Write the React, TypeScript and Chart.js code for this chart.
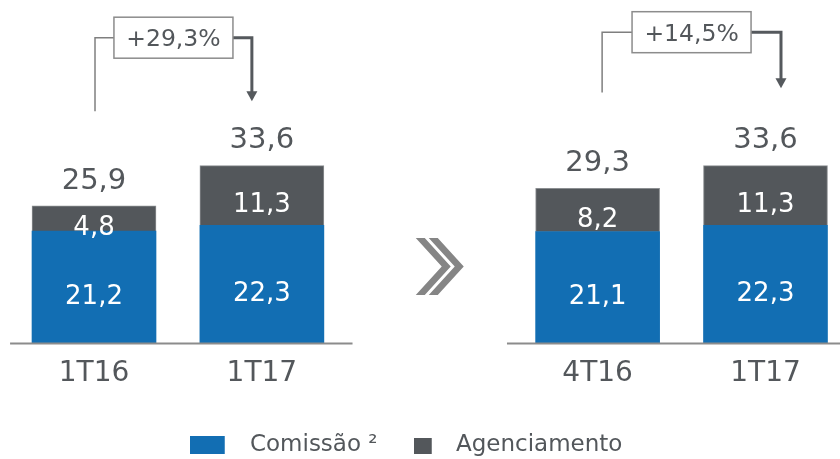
import React, { useEffect, useRef } from 'react';
import { Chart, registerables } from 'chart.js';

Chart.register(...registerables);

// ---- data ----
const categories = ['1T16', '1T17', '', '4T16', '1T17'];
const comissao: (number | null)[] = [21.2, 22.3, null, 21.1, 22.3];
const agenciamento: (number | null)[] = [4.8, 11.3, null, 8.2, 11.3];
const totals: (number | null)[] = [25.9, 33.6, null, 29.3, 33.6];
const seriesNames = ['Comissão ²', 'Agenciamento'];
const growthLabels = ['+29,3%', '+14,5%'];
const growthFrom = [0, 3];
const growthTo = [1, 4];

// ---- styles ----
const FONT = '"DejaVu Sans", sans-serif';
const BLUE = '#126EB3';
const GRAY = '#53575B';
const TEXT = '#53575B';
const AXIS = '#8C8C8C';
const growthStyle = [
  { dxFrom: 1, dxTo: -10, boxDy: -128, tipDy: -64.5, baseDy: -95 },
  { dxFrom: 4.5, dxTo: 15.5, boxDy: -133.5, tipDy: -77.5, baseDy: -96 },
];

const fmt = (v: number) => v.toFixed(1).replace('.', ',');

function makeLegendImg(color: string, w: number, h: number, rx: number, ry: number, rw: number, rh: number) {
  const c = document.createElement('canvas');
  c.width = w;
  c.height = h;
  const g = c.getContext('2d')!;
  g.fillStyle = color;
  g.fillRect(rx, ry, rw, rh);
  return c;
}

const overlayPlugin = {
  id: 'overlay',
  afterDatasetsDraw(chart: any) {
    const { ctx, chartArea, scales } = chart;
    const x = scales.x;
    const y = scales.y;
    ctx.save();
    // broken baseline
    ctx.strokeStyle = AXIS;
    ctx.lineWidth = 2;
    const by = chartArea.bottom + 0.5;
    [[-0.5, 1.54], [2.46, 4.5]].forEach(([a, b]) => {
      ctx.beginPath();
      ctx.moveTo(x.getPixelForValue(a), by);
      ctx.lineTo(x.getPixelForValue(b), by);
      ctx.stroke();
    });

    // segment labels
    ctx.textAlign = 'center';
    ctx.textBaseline = 'alphabetic';
    ctx.fillStyle = '#FFFFFF';
    ctx.font = `26px ${FONT}`;
    chart.data.datasets.forEach((ds: any, di: number) => {
      const meta = chart.getDatasetMeta(di);
      meta.data.forEach((el: any, j: number) => {
        const v = ds.data[j].y;
        const cy = (el.y + el.base) / 2 + 7;
        ctx.fillText(fmt(v), el.x, cy + 9.5);
      });
    });

    // totals
    ctx.fillStyle = TEXT;
    ctx.font = `29px ${FONT}`;
    totals.forEach((t, i) => {
      if (t == null) return;
      ctx.fillText(fmt(t), x.getPixelForValue(i), y.getPixelForValue(t) - 17.5);
    });

    // growth brackets
    growthLabels.forEach((lab, k) => {
      const st = growthStyle[k];
      const f = growthFrom[k];
      const t = growthTo[k];
      const topTo = y.getPixelForValue(totals[t] as number);
      const topFrom = y.getPixelForValue(totals[f] as number);
      const lx = x.getPixelForValue(f) + st.dxFrom;
      const ax = x.getPixelForValue(t) + st.dxTo;
      const boxY = topTo + st.boxDy;
      const tip = topTo + st.tipDy;
      const lb = topFrom + st.baseDy;
      const mx = (lx + ax) / 2;
      const bw = 119;
      const bh = 41;
      ctx.strokeStyle = '#7F7F7F';
      ctx.lineWidth = 1.5;
      ctx.beginPath();
      ctx.moveTo(lx, lb);
      ctx.lineTo(lx, boxY);
      ctx.lineTo(mx - bw / 2, boxY);
      ctx.stroke();
      ctx.strokeStyle = '#55595D';
      ctx.lineWidth = 3;
      ctx.beginPath();
      ctx.moveTo(mx + bw / 2, boxY);
      ctx.lineTo(ax, boxY);
      ctx.lineTo(ax, tip - 8);
      ctx.stroke();
      ctx.fillStyle = '#55595D';
      ctx.beginPath();
      ctx.moveTo(ax - 5.5, tip - 10);
      ctx.lineTo(ax + 5.5, tip - 10);
      ctx.lineTo(ax, tip);
      ctx.closePath();
      ctx.fill();
      ctx.fillStyle = '#FFFFFF';
      ctx.fillRect(mx - bw / 2, boxY - bh / 2, bw, bh);
      ctx.strokeStyle = '#8C8C8C';
      ctx.lineWidth = 1.5;
      ctx.strokeRect(mx - bw / 2, boxY - bh / 2, bw, bh);
      ctx.fillStyle = TEXT;
      ctx.font = `23.5px ${FONT}`;
      ctx.fillText(lab, mx, boxY + 8.6);
    });

    // chevrons in the gap
    const cx = x.getPixelForValue(2);
    const y0 = 238;
    const y1 = 295;
    const ym = (y0 + y1) / 2;
    const drawChev = (x0: number) => {
      const t = 9;
      const d = 26;
      ctx.beginPath();
      ctx.moveTo(x0, y0);
      ctx.lineTo(x0 + t, y0);
      ctx.lineTo(x0 + t + d, ym);
      ctx.lineTo(x0 + t, y1);
      ctx.lineTo(x0, y1);
      ctx.lineTo(x0 + d, ym);
      ctx.closePath();
    };
    ctx.fillStyle = '#858585';
    drawChev(cx - 14);
    ctx.fill();
    drawChev(cx - 1);
    ctx.strokeStyle = '#FFFFFF';
    ctx.lineWidth = 2;
    ctx.stroke();
    ctx.fill();
    ctx.restore();
  },
};

export default function App() {
  const ref = useRef<HTMLCanvasElement>(null);
  useEffect(() => {
    if (!ref.current) return;
    const legendImgs = [
      makeLegendImg(BLUE, 59, 18, 0, 0, 35, 18),
      makeLegendImg(GRAY, 23, 18, 0, 2, 18, 16),
    ];
    const toPoints = (arr: (number | null)[]) =>
      arr.map((v, i) => ({ x: i, y: v })).filter((p) => p.y != null);
    const chart = new Chart(ref.current, {
      type: 'bar',
      data: {
        datasets: [
          {
            label: seriesNames[0],
            data: toPoints(comissao) as any,
            backgroundColor: BLUE,
            borderWidth: 0,
            barThickness: 124,
            clip: false as any,
          },
          {
            label: seriesNames[1],
            data: toPoints(agenciamento) as any,
            backgroundColor: GRAY,
            borderColor: '#8B8E91',
            borderWidth: 1,
            barThickness: 124,
            clip: false as any,
          },
        ],
      },
      options: {
        responsive: false,
        animation: false,
        layout: { padding: { left: 0, right: 17.6, top: 0, bottom: -7.5 } },
        scales: {
          x: {
            type: 'linear',
            stacked: true,
            offset: false,
            min: -0.56,
            max: 4.339,
            grid: { display: false, drawTicks: false, tickLength: 0 },
            border: { display: false },
            afterBuildTicks: (scale: any) => {
              scale.ticks = categories
                .map((c, i) => ({ value: i, label: c }))
                .filter((t) => t.label !== '')
                .map((t) => ({ value: t.value }));
            },
            afterFit: (scale: any) => {
              scale.paddingLeft = 0;
              scale.paddingRight = 0;
            },
            ticks: {
              autoSkip: false,
              maxRotation: 0,
              padding: 14.2,
              color: TEXT,
              font: { family: FONT, size: 28 },
              callback: (v: any) => categories[Math.round(Number(v))],
            },
          },
          y: {
            display: false,
            stacked: true,
            min: 0,
            max: 65,
          },
        },
        plugins: {
          tooltip: { enabled: false },
          legend: {
            position: 'bottom',
            labels: {
              usePointStyle: true,
              pointStyleWidth: 38.4,
              padding: 28.5,
              color: TEXT,
              font: { family: FONT, size: 23 },
              generateLabels: (ch: any) =>
                ch.data.datasets.map((ds: any, i: number) => ({
                  text: ds.label,
                  fillStyle: ds.backgroundColor,
                  strokeStyle: ds.backgroundColor,
                  lineWidth: 0,
                  pointStyle: legendImgs[i],
                  hidden: false,
                  datasetIndex: i,
                  fontColor: TEXT,
                })),
            },
          },
        },
      },
      plugins: [overlayPlugin],
    });
    return () => chart.destroy();
  }, []);
  return (
    <div style={{ position: 'fixed', left: 0, top: 0, width: 840, height: 459, background: '#fff' }}>
      <canvas ref={ref} width={840} height={459} />
    </div>
  );
}
